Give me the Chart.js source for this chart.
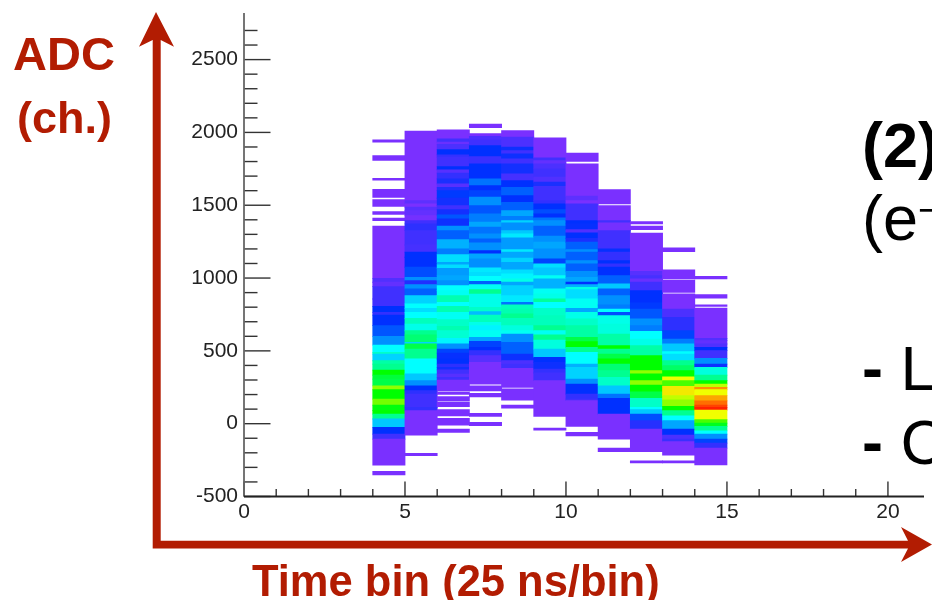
<!DOCTYPE html>
<html>
<head>
<meta charset="utf-8">
<style>
	html, body { margin: 0; padding: 0; background: #fff; overflow: hidden; }
	#wrap { position: relative; width: 932px; height: 600px; overflow: hidden; font-family: "Liberation Sans", sans-serif; }
	#wrap canvas { position: absolute; left: 0; top: 0; }
	#wrap svg { position: absolute; left: 0; top: 0; }
	.note { position: absolute; white-space: nowrap; line-height: 1; }
	.red { color: #b21c02; font-weight: bold; }
	.big { color: #000; font-size: 63px; }
	.big sup { font-size: 38px; line-height: 0; vertical-align: 17px; }
</style>
<script src="https://cdn.jsdelivr.net/npm/chart.js@4/dist/chart.umd.min.js"></script>
</head>
<body>
<div id="wrap">
	<canvas id="chart" width="932" height="600"></canvas>
	<svg width="932" height="600">
		<path d="M152.7 548.5V40L139 46.7L156 12L174 46.7L160.7 40V540.7H908L901 527L932 544.5L901 562L908 548.5Z" fill="#b21c02"></path>
	</svg>
	<div class="note red" style="left:13px;top:29.5px;font-size:47px">ADC</div>
	<div class="note red" style="left:17px;top:95px;font-size:45px">(ch.)</div>
	<div class="note red" style="left:252px;top:560px;font-size:43.5px">Time bin (25 ns/bin)</div>
	<div class="note big" style="left:862px;top:113.7px;font-weight:bold">(2)</div>
	<div class="note big" style="left:862px;top:186.7px">(e<sup>−</sup></div>
	<div class="note big" style="left:862px;top:336.7px"><b>-</b> L</div>
	<div class="note big" style="left:862px;top:411px"><b>-</b> C</div>
</div>
<script>
// each band is [upper ADC, lower ADC, colour level 0-10]
var bin4 = [
	[1949, 1933, 0], [1841, 1809, 0], [1685, 1672, 0], [1608, 1555, 0], [1539, 1493, 0], [1456, 1438, 0], [1411, 1395, 0],
	[1356, 998, 0], [998, 971, 0.7], [971, 941, 0.4], [941, 856, 1], [856, 806, 1], [806, 764, 2], [764, 746, 1.2],
	[746, 673, 2], [673, 600, 2.4], [600, 540, 3], [540, 490, 4], [490, 478, 4.5], [478, 432, 3.6], [432, 409, 4.8],
	[409, 368, 5], [368, 334, 6], [334, 306, 5.6], [306, 260, 5.5], [260, 233, 7], [233, 169, 6], [169, 128, 6.8],
	[128, 89, 5.9], [89, 66, 6], [66, 32, 5], [32, -26, 3.5], [-26, -72, 2], [-72, -106, 1], [-106, -285, 0], [-328, -351, 0]
];
var bin5 = [
	[2008, 1532, 0], [1532, 1509, 0.5], [1509, 1486, 0], [1486, 1463, 0.6], [1463, 1429, 0.4], [1429, 1395, 0.1],
	[1395, 1372, 1], [1372, 1326, 1.3], [1326, 1227, 1], [1227, 1177, 0.9], [1177, 1143, 2], [1143, 1074, 2],
	[1074, 1005, 2.3], [1005, 982, 3], [982, 955, 1.5], [955, 925, 3], [925, 879, 2.5], [879, 822, 3.6], [822, 792, 4],
	[792, 764, 3.7], [764, 723, 4], [723, 684, 4.6], [684, 638, 4.2], [638, 609, 5], [609, 558, 5.2], [558, 547, 3.6],
	[547, 512, 5.5], [512, 444, 5], [444, 341, 4], [341, 295, 3.5], [295, 260, 3], [260, 226, 2], [226, 203, 1.3],
	[203, 112, 1], [112, 89, 1.2], [89, -78, 0], [-204, -220, 0]
];
var bin6 = [
	[2017, 1956, 0], [1956, 1933, 1], [1933, 1917, 0.3], [1917, 1882, 0.8], [1882, 1846, 2], [1846, 1830, 1.2],
	[1830, 1765, 1], [1765, 1743, 2], [1743, 1720, 0.6], [1720, 1681, 1.2], [1681, 1646, 1.6], [1646, 1623, 0.6],
	[1623, 1601, 1.5], [1601, 1548, 2.1], [1548, 1498, 1.7], [1498, 1470, 1], [1470, 1433, 1.7], [1433, 1406, 2.4],
	[1406, 1356, 1.8], [1356, 1326, 3], [1326, 1264, 2.5], [1264, 1200, 3.3], [1200, 1161, 2.8], [1161, 1108, 3.7],
	[1108, 1090, 3.2], [1090, 1067, 3.7], [1067, 1017, 3.1], [1017, 982, 3.2], [982, 948, 3], [948, 914, 4],
	[914, 879, 4.1], [879, 833, 4.7], [833, 806, 4], [806, 764, 4.7], [764, 714, 4.1], [714, 668, 4.5], [668, 638, 4.7],
	[638, 586, 4.4], [586, 547, 3.9], [547, 512, 3], [512, 485, 2.2], [485, 444, 1.9], [444, 409, 2], [409, 386, 1.3],
	[386, 370, 1.7], [370, 340, 1], [340, 318, 0.6], [318, 299, 1], [299, 224, 0], [215, 201, 0], [185, 155, 0],
	[146, 118, 0], [96, 54, 0], [36, -10, 0], [-37, -60, 0]
];
var bin7 = [
	[2056, 2033, 0], [1992, 1972, 0], [1972, 1949, 0.8], [1949, 1910, 1], [1910, 1834, 2], [1834, 1784, 1.1],
	[1784, 1681, 2], [1681, 1635, 2.7], [1635, 1601, 2], [1601, 1555, 2.2], [1555, 1498, 3], [1498, 1440, 2.4],
	[1440, 1383, 2.8], [1383, 1349, 3.2], [1349, 1303, 2.7], [1303, 1269, 3], [1269, 1241, 2.5], [1241, 1188, 3],
	[1188, 1165, 2], [1165, 1131, 3.2], [1131, 1069, 3], [1069, 1039, 3.8], [1039, 1012, 3.7], [1012, 977, 4],
	[977, 955, 2.5], [955, 920, 4.1], [920, 890, 5], [890, 799, 4.2], [799, 769, 4.5], [769, 746, 3.4], [746, 696, 4.6],
	[696, 673, 4.2], [673, 638, 3.9], [638, 593, 4.1], [593, 565, 3.2], [565, 524, 2.2], [524, 501, 2], [501, 467, 1.2],
	[467, 421, 0.6], [421, 272, 0], [260, 226, 0], [208, 185, 0], [70, 50, 0], [9, -14, 0]
];
var bin8 = [
	[2013, 1967, 0], [1967, 1898, 0.8], [1898, 1875, 1.8], [1875, 1852, 1], [1852, 1818, 1.8], [1818, 1784, 1],
	[1784, 1715, 1.7], [1715, 1669, 0.9], [1669, 1623, 2], [1623, 1566, 2.5], [1566, 1520, 2], [1520, 1463, 2.5],
	[1463, 1424, 3.2], [1424, 1394, 2.8], [1394, 1378, 3.6], [1378, 1326, 3], [1326, 1303, 3.5], [1303, 1275, 3.8],
	[1275, 1195, 3.1], [1195, 1177, 3.8], [1177, 1136, 3.2], [1136, 1108, 3.6], [1108, 1056, 3.2], [1056, 1028, 3.7],
	[1028, 994, 3.9], [994, 971, 4.2], [971, 948, 3.2], [948, 879, 3.6], [879, 833, 3.8], [833, 815, 2.7], [815, 787, 4.6],
	[787, 753, 4.7], [753, 723, 5], [723, 673, 4.6], [673, 638, 4.3], [638, 615, 4.1], [615, 558, 3], [558, 478, 2.5],
	[478, 432, 1.8], [432, 409, 0.8], [409, 379, 1], [379, 249, 0], [238, 162, 0], [128, 107, 0]
];
var bin9 = [
	[1962, 1825, 0], [1825, 1807, 1], [1807, 1784, 0.4], [1784, 1750, 0.8], [1750, 1692, 1], [1692, 1658, 0.7],
	[1658, 1630, 1.6], [1630, 1532, 1], [1532, 1509, 1.2], [1509, 1470, 2], [1470, 1440, 2.3], [1440, 1413, 2],
	[1413, 1395, 2.7], [1395, 1356, 3], [1356, 1287, 2.5], [1287, 1246, 3], [1246, 1200, 3.2], [1200, 1131, 3],
	[1131, 1097, 2.2], [1097, 1069, 3.7], [1069, 1017, 3.5], [1017, 994, 4.1], [994, 925, 3.3], [925, 891, 4.1],
	[891, 856, 4.2], [856, 833, 4.9], [833, 792, 4], [792, 741, 4.5], [741, 673, 4.6], [673, 638, 5], [638, 609, 4.1],
	[609, 574, 5], [574, 512, 4.3], [512, 455, 3.5], [455, 421, 2], [421, 375, 1.8], [375, 348, 1.2], [348, 295, 1],
	[295, 50, 0], [-30, -44, 0]
];
var bin10 = [
	[1857, 1802, 0], [1784, 1562, 0], [1562, 1532, 0.5], [1532, 1509, 0], [1509, 1395, 1], [1395, 1372, 2],
	[1372, 1333, 1.9], [1333, 1310, 0.7], [1310, 1273, 2], [1273, 1246, 1.6], [1246, 1195, 2.5], [1195, 1177, 3],
	[1177, 1120, 2.5], [1120, 1097, 3], [1097, 1046, 2.5], [1046, 1005, 3], [1005, 971, 3.2], [971, 955, 2],
	[955, 936, 3.3], [936, 920, 4.2], [920, 856, 3.7], [856, 792, 4.1], [792, 764, 3.2], [764, 719, 4.2], [719, 673, 4.5],
	[673, 593, 4.8], [593, 563, 5.5], [563, 524, 6], [524, 490, 5], [490, 409, 4], [409, 386, 3.3], [386, 306, 3.6],
	[306, 272, 3], [272, 203, 2], [203, 169, 1.2], [169, 158, 1], [158, -19, 0], [-60, -83, 0]
];
var bin11 = [
	[1607, 1509, 0], [1498, 1395, 0], [1395, 1379, 1], [1379, 1326, 0.1], [1326, 1200, 1], [1200, 1177, 1.9],
	[1177, 1120, 1.2], [1120, 1097, 2], [1097, 1074, 1.2], [1074, 1017, 2], [1017, 960, 2.5], [960, 925, 3.5],
	[925, 879, 2.5], [879, 815, 3], [815, 787, 2.8], [787, 764, 4], [764, 741, 2.3], [741, 684, 4.2], [684, 615, 4.3],
	[615, 535, 4.8], [535, 512, 6], [512, 478, 5], [478, 444, 5.5], [444, 409, 6], [409, 364, 5.2], [364, 318, 5],
	[318, 260, 4.5], [260, 203, 3.5], [203, 174, 2.7], [174, 66, 2], [66, -106, 0], [-168, -191, 0]
];
var bin12 = [
	[1388, 1372, 0], [1356, 1333, 0], [1308, 1046, 0], [1046, 1017, 0.6], [1017, 994, 0.9], [994, 971, 0.3],
	[971, 914, 1], [914, 829, 2], [829, 787, 2.1], [787, 719, 2.4], [719, 673, 3], [673, 634, 2.8], [634, 581, 4],
	[581, 535, 4.2], [535, 467, 4.8], [467, 364, 6], [364, 341, 7], [341, 295, 6], [295, 265, 7], [265, 219, 6],
	[219, 174, 5.5], [174, 112, 4.5], [112, 96, 4], [96, 66, 3.5], [66, 20, 2.3], [20, -37, 1.4], [-37, -191, 0],
	[-255, -269, 0]
];
var bin13 = [
	[1207, 1181, 0], [1056, 994, 0], [985, 902, 0], [891, 787, 0], [787, 730, 0.8], [730, 638, 1.3], [638, 581, 2.2],
	[581, 547, 2.8], [547, 494, 3.5], [494, 478, 4], [478, 432, 3.7], [432, 398, 5], [398, 364, 5.3], [364, 322, 6],
	[322, 295, 8], [295, 256, 6.5], [256, 192, 8.2], [192, 164, 7.5], [164, 118, 7], [118, 89, 6], [89, 54, 5],
	[54, 20, 4], [20, -37, 3.2], [-37, -78, 2], [-78, -106, 0.8], [-106, -124, 1.1], [-124, -216, 0], [-255, -269, 0]
];
var bin14 = [
	[1012, 994, 0], [886, 863, 0], [816, 806, 0], [794, 586, 0], [586, 570, 0.7], [570, 547, 0.4], [547, 524, 0.7],
	[524, 501, 2], [501, 448, 1], [448, 409, 3], [409, 386, 1.8], [386, 334, 4.3], [334, 295, 5], [295, 272, 6],
	[272, 249, 7.5], [249, 233, 9], [233, 192, 8], [192, 157, 8.8], [157, 127, 9.3], [127, 112, 9.7], [112, 93, 10],
	[93, 27, 8], [27, 4, 6.5], [4, -19, 5.8], [-19, -49, 5], [-49, -72, 4], [-72, -106, 3], [-106, -133, 2.2],
	[-133, -168, 1.2], [-168, -282, 0]
];
var timeBins = [4.5, 5.5, 6.5, 7.5, 8.5, 9.5, 10.5, 11.5, 12.5, 13.5, 14.5];
var binBands = [bin4, bin5, bin6, bin7, bin8, bin9, bin10, bin11, bin12, bin13, bin14];

var palette = ['#7a30ff', '#4030ff', '#0030ff', '#0090ff', '#00ffff', '#00ff90', '#00ff00', '#90ff00', '#f0ff00', '#ff9000', '#ff2000'];

function levelColor(level) {
	var low = Math.floor(level);
	var high = Math.min(low + 1, palette.length - 1);
	var t = level - low;
	var a = parseInt(palette[low].slice(1), 16);
	var b = parseInt(palette[high].slice(1), 16);
	var r = Math.round((a >> 16) * (1 - t) + (b >> 16) * t);
	var g = Math.round(((a >> 8) & 255) * (1 - t) + ((b >> 8) & 255) * t);
	var bl = Math.round((a & 255) * (1 - t) + (b & 255) * t);
	return 'rgb(' + r + ',' + g + ',' + bl + ')';
}

var points = [];
binBands.forEach(function (bands, i) {
	bands.forEach(function (band) {
		points.push({ x: timeBins[i], y: [band[1], band[0]], level: band[2] });
	});
});

// ROOT style ticks point into the frame
var insideTicks = {
	id: 'insideTicks',
	afterDraw: function (chart) {
		var ctx = chart.ctx;
		var xScale = chart.scales.x;
		var yScale = chart.scales.y;
		var area = chart.chartArea;
		ctx.save();
		ctx.strokeStyle = '#333';
		ctx.lineWidth = 1.4;
		yScale.ticks.forEach(function (tick) {
			var py = yScale.getPixelForValue(tick.value);
			ctx.beginPath();
			ctx.moveTo(area.left, py);
			ctx.lineTo(area.left + (tick.value % 500 === 0 ? 26.5 : 13.5), py);
			ctx.stroke();
		});
		xScale.ticks.forEach(function (tick) {
			var px = xScale.getPixelForValue(tick.value);
			ctx.beginPath();
			ctx.moveTo(px, area.bottom);
			ctx.lineTo(px, area.bottom - (tick.value % 5 === 0 ? 15 : 7.5));
			ctx.stroke();
		});
		ctx.lineWidth = 1.8;
		ctx.strokeStyle = '#666';
		ctx.beginPath();
		ctx.moveTo(area.left, area.top);
		ctx.lineTo(area.left, area.bottom);
		ctx.stroke();
		ctx.strokeStyle = '#222';
		ctx.beginPath();
		ctx.moveTo(area.left, area.bottom);
		ctx.lineTo(area.right, area.bottom);
		ctx.stroke();
		ctx.restore();
	}
};

new Chart(document.getElementById('chart'), {
	type: 'bar',
	data: {
		datasets: [{
			data: points,
			backgroundColor: function (c) { return levelColor(c.raw.level); },
			borderWidth: 0,
			inflateAmount: 0.4,
			barPercentage: 1,
			categoryPercentage: 1
		}]
	},
	options: {
		responsive: false,
		animation: false,
		layout: { padding: { left: 0, top: 13, right: 8, bottom: 0 } },
		plugins: { legend: { display: false }, tooltip: { enabled: false } },
		scales: {
			x: {
				type: 'linear',
				min: 0,
				max: 21.12,
				offset: false,
				afterFit: function (scale) {
					scale.height = 103.5;
					scale.paddingLeft = 0;
					scale.paddingRight = 0;
				},
				afterBuildTicks: function (scale) {
					scale.ticks = scale.ticks.filter(function (t) { return Number.isInteger(t.value); });
				},
				border: { display: false },
				grid: { display: false, tickLength: 0 },
				ticks: {
					stepSize: 1,
					autoSkip: false,
					maxRotation: 0,
					padding: 3,
					color: '#222',
					font: { family: 'Liberation Sans', size: 21 },
					callback: function (v) { return v % 5 === 0 ? String(v) : ''; }
				}
			},
			y: {
				min: -500,
				max: 2820,
				afterFit: function (scale) {
					scale.width = 244;
					scale.paddingTop = 0;
					scale.paddingBottom = 0;
				},
				afterBuildTicks: function (scale) {
					scale.ticks = scale.ticks.filter(function (t) { return t.value % 100 === 0; });
				},
				border: { display: false },
				grid: { display: false, tickLength: 0 },
				ticks: {
					stepSize: 100,
					autoSkip: false,
					padding: 6,
					color: '#222',
					font: { family: 'Liberation Sans', size: 21 },
					callback: function (v) { return v % 500 === 0 ? String(v) : ''; }
				}
			}
		}
	},
	plugins: [insideTicks]
});
</script>
</body>
</html>
